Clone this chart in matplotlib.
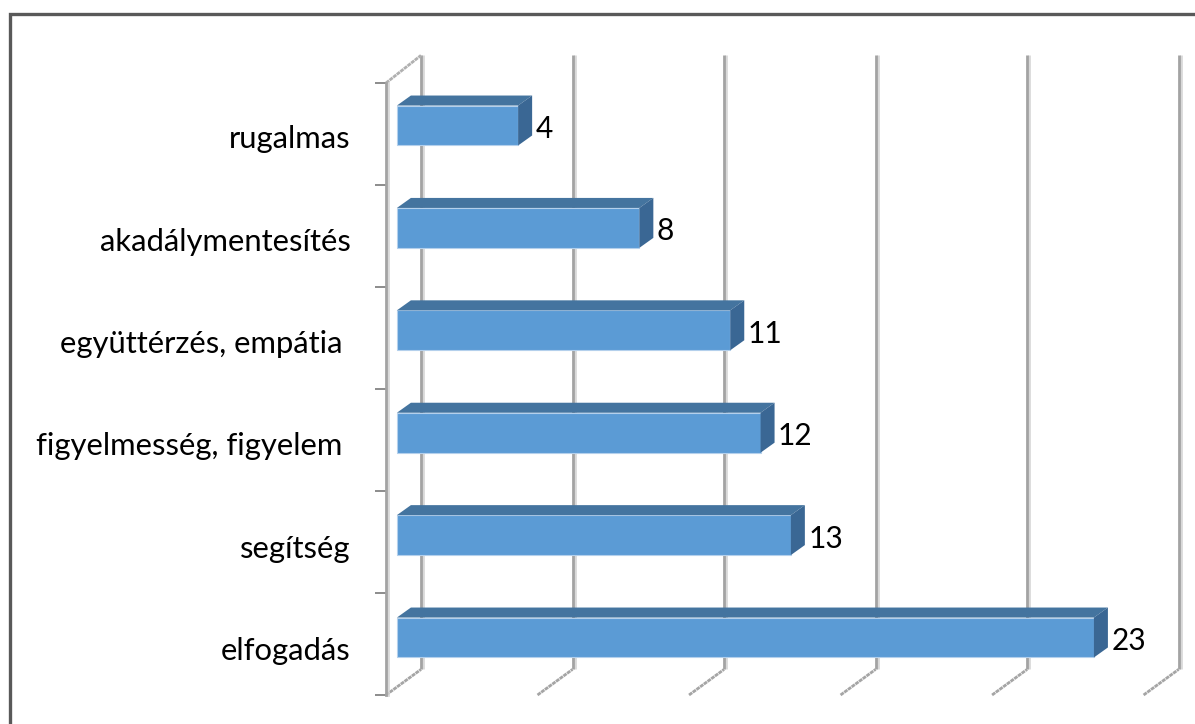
import matplotlib.pyplot as plt
from matplotlib.lines import Line2D
import matplotlib.patheffects as pe
import numpy as np

categories = ['elfogadás', 'segítség', 'figyelmesség, figyelem ', 'együttérzés, empátia ',
              'akadálymentesítés', 'rugalmas']
values = [23, 13, 12, 11, 8, 4]
grid_values = [0, 5, 10, 15, 20, 25]

plt.rcParams['font.family'] = ['Lato', 'DejaVu Sans']

fig = plt.figure(figsize=(11.95, 7.24), dpi=100)
ax = fig.add_axes([386 / 1195, 1 - 695 / 724, (1143 - 386) / 1195, (695 - 83) / 724])

# Scale: 30.3 px per unit, 102.4 px per category
front_x = -0.36
ax.set_xlim(front_x, 24.62)
y_low, y_high = -0.5615, 5.415
ax.set_ylim(y_low, y_high)

# pseudo 3d depth, in data units
bar_dx, bar_dy = 14 / 30.3, 10 / 102.4
wall_x = 0.795
wall_low, wall_high = y_low + 0.25, y_high + 0.27
bar_h = 0.39

grid_col = '#a3a3a3'
shadow = [pe.SimpleLineShadow(offset=(1.5, 0), shadow_color='#d0d0d0', alpha=0.8), pe.Normal()]

# Back wall gridlines and floor diagonals
for g in grid_values:
    ax.plot([g + wall_x, g + wall_x], [wall_low, wall_high], color=grid_col, lw=2.0,
            clip_on=False, zorder=1, path_effects=shadow, solid_capstyle='butt')
    ax.plot([g + front_x, g + wall_x], [y_low, wall_low], color='#a5a5a5', lw=2.0,
            clip_on=False, zorder=1, ls=(0, (1.4, 0.25)))
ax.plot([front_x, wall_x], [y_high, wall_high], color='#b0b0b0', lw=2.0,
        clip_on=False, zorder=1, ls=(0, (1.4, 0.25)))

# Bars
ypos = np.arange(len(values))
ax.barh(ypos, values, height=bar_h, color='#5B9BD5', edgecolor='#b4d0ec', linewidth=0.8, zorder=3)
for y, v in zip(ypos, values):
    top = y + bar_h / 2
    bottom = y - bar_h / 2
    ax.fill([0, bar_dx, v + bar_dx, v], [top, top + bar_dy, top + bar_dy, top],
            color='#44749F', lw=0, zorder=4)
    ax.fill([v, v + bar_dx, v + bar_dx, v], [top, top + bar_dy, bottom + bar_dy, bottom],
            color='#3A6794', lw=0, zorder=4)
    ax.annotate(str(v), xy=(v, y), xytext=(12.5, -2.5), textcoords='offset points',
                ha='left', va='center', fontsize=21.5, color='black', zorder=5)

# Axis
for side in ['top', 'right', 'bottom']:
    ax.spines[side].set_visible(False)
ax.spines['left'].set_color(grid_col)
ax.spines['left'].set_linewidth(2.0)
ax.spines['left'].set_path_effects(shadow)
ax.set_xticks([])
ax.set_yticks(np.linspace(y_low, y_high, 7), minor=True)
ax.tick_params(axis='y', which='minor', length=8, width=1.4, color='#8c8c8c')
ax.set_yticks(ypos - 0.11, categories)
ax.tick_params(axis='y', which='major', length=0, pad=25.5, labelsize=22.3)
ax.patch.set_alpha(0)

# Outer chart frame, only left and top are in the picture
w, h = 1195, 724
fig.add_artist(Line2D([9.5 / w, 9.5 / w, 1], [0, 1 - 13.5 / h, 1 - 13.5 / h],
                      color='#595959', lw=2.4, solid_joinstyle='miter'))

fig.savefig('out.png', dpi=100)
